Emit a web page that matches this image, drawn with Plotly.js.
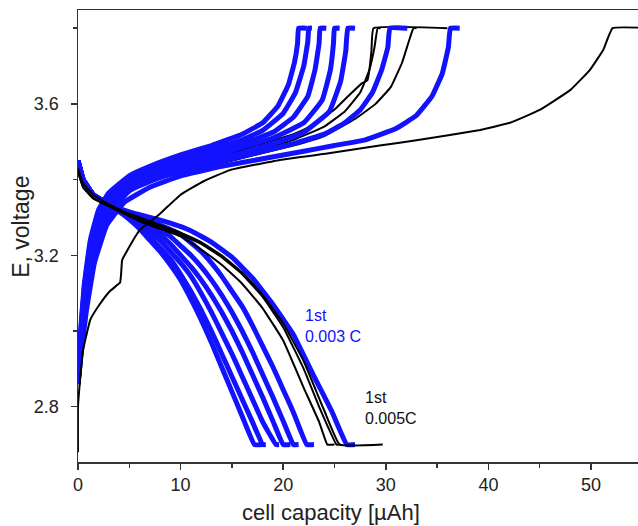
<!DOCTYPE html>
<html>
<head>
<meta charset="utf-8">
<script src="https://cdn.plot.ly/plotly-3.0.1.min.js"></script>
<style>html,body{margin:0;padding:0;background:#fff;}#chart{width:638px;height:526px;}</style>
</head>
<body>
<div id="chart"></div>
<script>
// ---------- data (cell capacity in µAh, voltage in V) ----------
// black cycles, 0.005C
const k1ChgX = [0, 0, 0.2, 0.5, 1.2, 2.1, 3.1, 4.1, 4.2, 4.3, 4.8, 6.0, 8.0, 10, 12.2, 14.8, 19.7, 24.6, 29.4, 33.3, 39.2, 42.1, 45.0, 48.0, 49.9, 51.2, 52.1, 56];
const k1ChgY = [2.68, 2.80, 2.87, 2.95, 3.03, 3.07, 3.105, 3.128, 3.15, 3.187, 3.213, 3.266, 3.31, 3.36, 3.395, 3.425, 3.452, 3.47, 3.49, 3.505, 3.531, 3.55, 3.584, 3.637, 3.69, 3.743, 3.80, 3.80];

const k2ChgX = [0, 0.3, 0.8, 1.5, 2.5, 4, 6, 9, 12, 15, 18, 21, 24, 27, 29, 30.5, 31.6, 32.3, 32.7, 33.0];
const k2ChgY = [2.88, 2.97, 3.09, 3.21, 3.29, 3.35, 3.385, 3.41, 3.43, 3.45, 3.47, 3.49, 3.515, 3.56, 3.60, 3.645, 3.71, 3.77, 3.80, 3.80];
const k3ChgX = [0, 0.3, 0.8, 1.5, 2.5, 4, 6, 9, 12, 15, 18, 21, 24, 26, 27.5, 28.4, 28.9, 29.2, 29.5];
const k3ChgY = [2.88, 2.97, 3.10, 3.22, 3.30, 3.36, 3.395, 3.42, 3.44, 3.46, 3.48, 3.505, 3.54, 3.58, 3.63, 3.69, 3.75, 3.80, 3.80];
const k4ChgX = [0, 0.3, 0.8, 1.5, 2.5, 4, 6, 9, 12, 15, 18, 21, 23, 25, 26.5, 27.7, 28.2, 28.4, 28.6, 28.8, 36.0];
const k4ChgY = [2.88, 2.97, 3.10, 3.22, 3.31, 3.365, 3.40, 3.43, 3.45, 3.47, 3.495, 3.52, 3.545, 3.585, 3.625, 3.655, 3.662, 3.69, 3.74, 3.80, 3.80];

const k1DisX = [0, 0.5, 1.5, 3, 4.5, 6, 8, 10, 12, 14, 16, 18, 20, 22, 24, 25.5, 29.7];
const k1DisY = [3.43, 3.39, 3.36, 3.335, 3.315, 3.30, 3.28, 3.26, 3.235, 3.20, 3.155, 3.095, 3.02, 2.92, 2.79, 2.70, 2.70];
const k2DisX = [0, 0.5, 1.5, 3, 4.5, 6, 8, 10, 12, 14, 16, 18, 20, 22, 23.5, 25.2, 25.6];
const k2DisY = [3.42, 3.38, 3.35, 3.33, 3.31, 3.295, 3.275, 3.255, 3.23, 3.195, 3.15, 3.09, 3.01, 2.90, 2.80, 2.70, 2.70];
const k3DisX = [0, 0.5, 1.5, 3, 4.5, 6, 8, 10, 12, 14, 16, 18, 20, 22, 23.5, 24.3, 25.0];
const k3DisY = [3.42, 3.38, 3.35, 3.33, 3.31, 3.29, 3.27, 3.25, 3.215, 3.175, 3.125, 3.06, 2.975, 2.85, 2.76, 2.70, 2.70];

// blue cycles, 0.003 C
const b1ChgX = [0, 0.3, 0.8, 1.6, 2.8, 4.5, 7, 10, 14, 18, 22, 25, 28, 31, 33, 34.5, 35.5, 36.1, 36.3, 37.2];
const b1ChgY = [2.86, 2.94, 3.05, 3.18, 3.28, 3.34, 3.38, 3.41, 3.435, 3.455, 3.475, 3.49, 3.505, 3.535, 3.57, 3.62, 3.68, 3.75, 3.80, 3.80];
const b2ChgX = [0, 0.3, 0.8, 1.5, 2.5, 4, 6, 9, 12, 15, 18, 21, 24, 26, 27.5, 28.7, 29.6, 30.2, 30.4, 32.1];
const b2ChgY = [2.86, 2.95, 3.07, 3.20, 3.30, 3.36, 3.39, 3.415, 3.435, 3.455, 3.475, 3.495, 3.52, 3.55, 3.584, 3.63, 3.69, 3.75, 3.80, 3.80];
const b3ChgX = [0, 0.3, 0.8, 1.5, 2.5, 3.6, 5, 7, 10, 13, 16, 19, 22, 24.5, 25.6, 26.1, 26.3, 27.0];
const b3ChgY = [2.86, 2.96, 3.08, 3.20, 3.28, 3.33, 3.37, 3.395, 3.425, 3.45, 3.47, 3.495, 3.525, 3.58, 3.66, 3.74, 3.80, 3.80];
const b4ChgX = [0, 0.25, 0.7, 1.4, 2.3, 3.4, 5, 7, 10, 13, 16, 19, 22, 23.8, 24.6, 24.9, 25.0, 25.5];
const b4ChgY = [2.86, 2.96, 3.09, 3.21, 3.29, 3.34, 3.38, 3.405, 3.435, 3.46, 3.485, 3.51, 3.55, 3.61, 3.69, 3.76, 3.80, 3.80];
const b5ChgX = [0, 0.25, 0.7, 1.3, 2.2, 3.2, 5, 7, 10, 13, 16, 19, 21, 22.4, 23.1, 23.5, 23.6, 24.2];
const b5ChgY = [2.86, 2.97, 3.10, 3.22, 3.30, 3.35, 3.39, 3.415, 3.445, 3.47, 3.495, 3.525, 3.565, 3.62, 3.69, 3.76, 3.80, 3.80];
const b6ChgX = [0, 0.2, 0.6, 1.2, 2, 3, 5, 7, 10, 13, 16, 18, 20, 21.2, 22, 22.4, 22.5, 22.8];
const b6ChgY = [2.86, 2.97, 3.11, 3.23, 3.31, 3.355, 3.40, 3.425, 3.455, 3.48, 3.505, 3.53, 3.575, 3.63, 3.70, 3.765, 3.80, 3.80];
const b7ChgX = [0, 0.2, 0.6, 1.2, 2, 3, 5, 7, 10, 13, 16, 18, 19.5, 20.5, 21.1, 21.4, 21.5, 22.3];
const b7ChgY = [2.86, 2.98, 3.12, 3.24, 3.32, 3.365, 3.41, 3.435, 3.465, 3.49, 3.52, 3.55, 3.595, 3.65, 3.71, 3.76, 3.80, 3.80];

const b1DisX = [0, 0.5, 1.5, 3, 5, 7, 9, 11, 13, 15, 17, 19, 21, 23, 24.7, 26.2, 27.0];
const b1DisY = [3.45, 3.40, 3.36, 3.335, 3.315, 3.30, 3.285, 3.265, 3.235, 3.195, 3.14, 3.07, 2.99, 2.88, 2.79, 2.70, 2.70];
const b2DisX = [0, 0.5, 1.5, 3, 4, 6, 8, 10, 12, 13, 14, 15, 16, 17, 18, 19, 20, 21, 22.3, 23.0];
const b2DisY = [3.45, 3.40, 3.36, 3.335, 3.32, 3.30, 3.28, 3.255, 3.21, 3.18, 3.145, 3.105, 3.065, 3.015, 2.96, 2.905, 2.845, 2.785, 2.70, 2.70];
const b3DisX = [0, 0.5, 1.5, 3, 5, 7, 9, 10, 11, 12, 13, 14, 15, 16, 17, 18, 19, 20, 21, 21.5];
const b3DisY = [3.45, 3.40, 3.36, 3.335, 3.31, 3.285, 3.25, 3.225, 3.20, 3.17, 3.135, 3.095, 3.05, 3.0, 2.945, 2.885, 2.825, 2.762, 2.70, 2.70];
const b4DisX = [0, 0.5, 1.5, 3, 5, 7, 8, 9, 10, 11, 12, 13, 14, 15, 16, 17, 18, 19, 20.0, 20.7];
const b4DisY = [3.45, 3.40, 3.36, 3.335, 3.31, 3.275, 3.255, 3.23, 3.20, 3.17, 3.135, 3.095, 3.05, 3.0, 2.945, 2.885, 2.825, 2.762, 2.70, 2.70];
const b5DisX = [0, 0.5, 1.5, 3, 5, 6, 7, 8, 9, 10, 11, 12, 13, 14, 15, 16, 17, 18, 19.3, 19.6];
const b5DisY = [3.45, 3.40, 3.36, 3.335, 3.31, 3.29, 3.265, 3.24, 3.21, 3.18, 3.145, 3.10, 3.05, 2.995, 2.94, 2.88, 2.82, 2.76, 2.70, 2.70];
const b6DisX = [0, 0.5, 1.5, 3, 4, 5, 6, 7, 8, 9, 10, 11, 12, 13, 14, 15, 16, 17, 18.0, 18.3];
const b6DisY = [3.45, 3.40, 3.36, 3.335, 3.32, 3.30, 3.28, 3.25, 3.22, 3.19, 3.15, 3.105, 3.055, 3.0, 2.94, 2.88, 2.82, 2.76, 2.70, 2.70];
const b7DisX = [0, 0.5, 1.5, 3, 4, 5, 6, 7, 8, 9, 10, 11, 12, 13, 14, 15, 16, 17.2, 18.0];
const b7DisY = [3.45, 3.40, 3.36, 3.33, 3.315, 3.295, 3.27, 3.24, 3.21, 3.175, 3.135, 3.085, 3.03, 2.97, 2.905, 2.84, 2.775, 2.70, 2.70];

const yTickVals = [2.8, 3.2, 3.6];
const yTickText = ['2.8', '3.2', '3.6'];
const xTickVals = [0, 10, 20, 30, 40, 50];
const xTickText = ['0', '10', '20', '30', '40', '50'];
const labelBlue = ['1st', '0.003 C'];
const labelBlack = ['1st', '0.005C'];

// ---------- styling ----------
const BLUE = 'rgb(18,18,255)';
const BLACK = '#000000';
function tr(x, y, color, width) {
  return {x: x, y: y, type: 'scatter', mode: 'lines', hoverinfo: 'skip', showlegend: false,
          line: {color: color, width: width, shape: 'spline', smoothing: 0.3}};
}
const traces = [
  tr(k2ChgX, k2ChgY, BLACK, 2), tr(k3ChgX, k3ChgY, BLACK, 2), tr(k4ChgX, k4ChgY, BLACK, 2),
  tr(b1ChgX, b1ChgY, BLUE, 5), tr(b2ChgX, b2ChgY, BLUE, 5), tr(b3ChgX, b3ChgY, BLUE, 5),
  tr(b4ChgX, b4ChgY, BLUE, 5), tr(b5ChgX, b5ChgY, BLUE, 5), tr(b6ChgX, b6ChgY, BLUE, 5),
  tr(b7ChgX, b7ChgY, BLUE, 5),
  tr(b1DisX, b1DisY, BLUE, 5), tr(b2DisX, b2DisY, BLUE, 5), tr(b3DisX, b3DisY, BLUE, 5),
  tr(b4DisX, b4DisY, BLUE, 5), tr(b5DisX, b5DisY, BLUE, 5), tr(b6DisX, b6DisY, BLUE, 5),
  tr(b7DisX, b7DisY, BLUE, 5),
  tr(k1DisX, k1DisY, BLACK, 2), tr(k2DisX, k2DisY, BLACK, 2), tr(k3DisX, k3DisY, BLACK, 2),
  tr(k1ChgX, k1ChgY, BLACK, 2)
];

const FONT = 'Liberation Sans, Arial, sans-serif';
const layout = {
  width: 638, height: 526,
  margin: {l: 78, r: 0, t: 10, b: 64, pad: 0},
  paper_bgcolor: '#ffffff', plot_bgcolor: '#ffffff',
  font: {family: FONT, size: 18, color: '#222'},
  showlegend: false,
  xaxis: {
    range: [0, 54.58], showgrid: false, zeroline: false,
    showline: true, linecolor: '#333', linewidth: 1.5, mirror: true,
    ticks: 'outside', ticklen: 6, tickwidth: 1.5, tickcolor: '#333',
    tickvals: xTickVals, ticktext: xTickText,
    tickfont: {family: FONT, size: 18, color: '#222'},
    minor: {tickvals: [5, 15, 25, 35, 45], ticks: 'outside', ticklen: 4, tickwidth: 1.5, tickcolor: '#333'}
  },
  yaxis: {
    range: [2.654, 3.848], showgrid: false, zeroline: false,
    showline: true, linecolor: '#333', linewidth: 1.5, mirror: true,
    ticks: 'outside', ticklen: 6, tickwidth: 1.5, tickcolor: '#333',
    tickvals: yTickVals, ticktext: yTickText, ticklabelstandoff: 8,
    tickfont: {family: FONT, size: 18, color: '#222'},
    minor: {tickvals: [3.0, 3.4, 3.8], ticks: 'outside', ticklen: 4, tickwidth: 1.5, tickcolor: '#333'}
  },
  annotations: [
    {xref: 'paper', yref: 'paper', x: 0.452, y: -0.111, xanchor: 'center', yanchor: 'middle',
     text: 'cell capacity [µAh]', showarrow: false, font: {family: FONT, size: 22, color: '#222'}},
    {xref: 'paper', yref: 'paper', x: -0.102, y: 0.52, xanchor: 'center', yanchor: 'middle', textangle: -90,
     text: 'E, voltage', showarrow: false, font: {family: FONT, size: 23, color: '#222'}},
    {xref: 'x', yref: 'y', x: 21.9, y: 3.012, xanchor: 'left', yanchor: 'middle', align: 'left',
     text: labelBlue.join('<br>'), showarrow: false, font: {family: FONT, size: 16, color: BLUE}},
    {xref: 'x', yref: 'y', x: 27.8, y: 2.797, xanchor: 'left', yanchor: 'middle', align: 'left',
     text: labelBlack.join('<br>'), showarrow: false, font: {family: FONT, size: 16, color: '#111'}}
  ]
};
Plotly.newPlot('chart', traces, layout, {staticPlot: true, displayModeBar: false});
</script>
</body>
</html>
